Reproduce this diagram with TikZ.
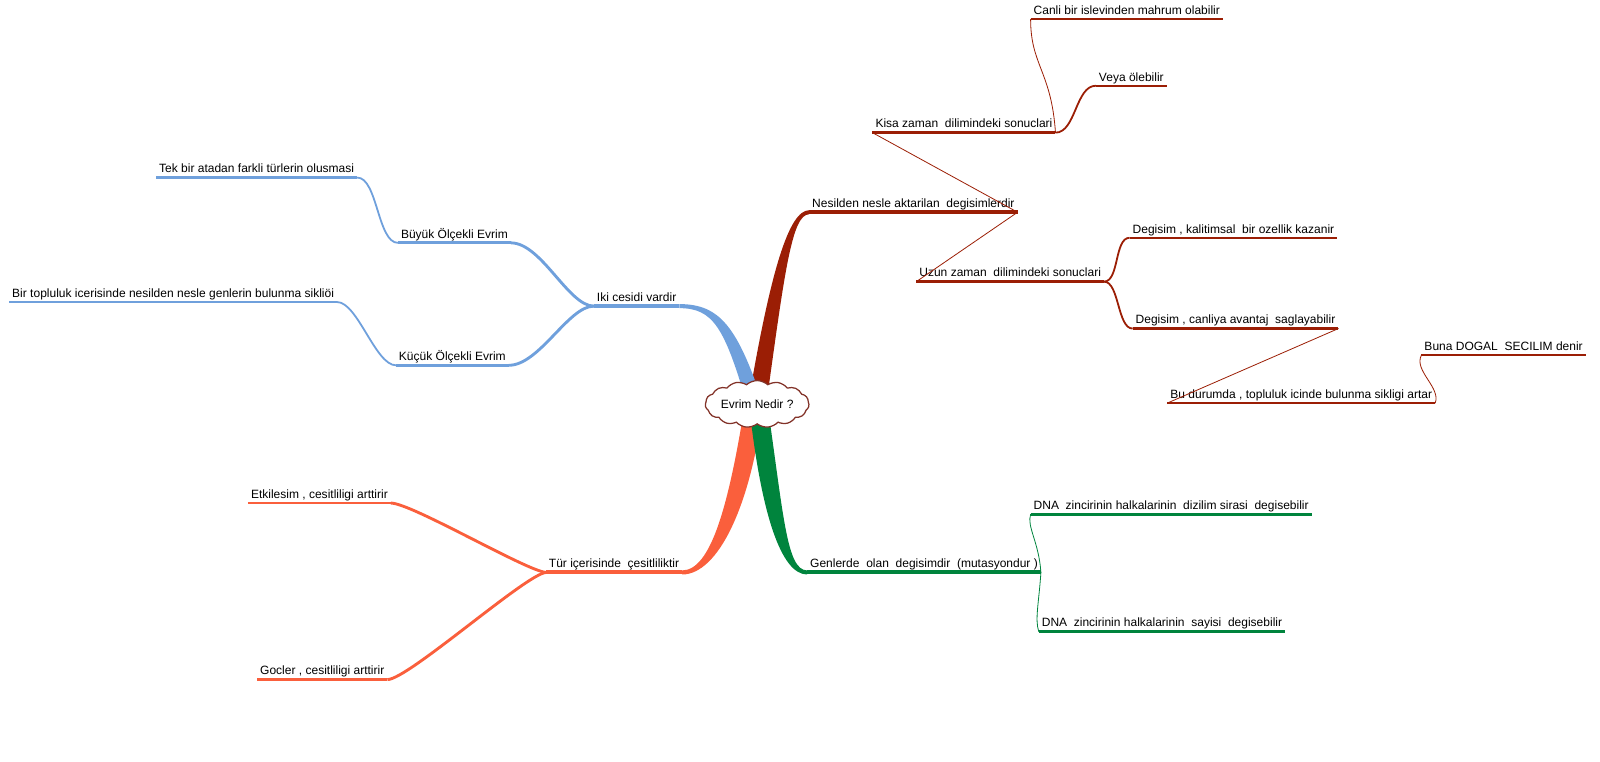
\documentclass[tikz,border=0pt]{standalone}
\usepackage{fontspec}
\setmainfont{Liberation Sans}
\usetikzlibrary{shapes.symbols,calc,backgrounds}

\definecolor{evred}{RGB}{155,30,5}
\definecolor{evblue}{RGB}{111,160,220}
\definecolor{evorange}{RGB}{250,95,60}
\definecolor{evgreen}{RGB}{0,132,61}
\definecolor{evcloud}{RGB}{130,50,40}

\begin{document}
\begin{tikzpicture}[x=0.02cm, y=-0.02cm,
  every node/.style={font=\fontsize{6.7}{7.7}\selectfont},
  topic/.style={anchor=south west, inner xsep=1.5pt, inner ysep=1.2pt, text height=4.8pt, text depth=1.2pt},
  lineA/.style={line width=2.2pt},
  lineB/.style={line width=1.6pt},
  lineC/.style={line width=1.2pt},
  lineD/.style={line width=1pt},
  hair/.style={line width=0.45pt, line cap=round}]
\useasboundingbox (0,0) rectangle (1568,746);
% centre
\node[cloud, cloud puffs=15, cloud puff arc=85, aspect=2.6, draw=evcloud, fill=white, line width=0.7pt,
  minimum width=54pt, minimum height=23pt, inner sep=0pt] (cloud) at (742,396) {Evrim Nedir ?};
% red branch
\node[topic] (nes) at (793,208) {Nesilden nesle aktarilan~ degisimlerdir};
\node[topic] (kisa) at (855,130) {Kisa zaman~ dilimindeki sonuclari};
\node[topic] (canli) at (1010,19) {Canli bir islevinden mahrum olabilir};
\node[topic] (veya) at (1074,84) {Veya ölebilir};
\node[topic] (uzun) at (898,276) {Uzun zaman~ dilimindeki sonuclari};
\node[topic] (deg1) at (1107,233) {Degisim , kalitimsal~ bir ozellik kazanir};
\node[topic] (deg2) at (1110,322) {Degisim , canliya avantaj~ saglayabilir};
\node[topic] (budur) at (1144,395) {Bu durumda , topluluk icinde bulunma sikligi artar};
\node[topic] (buna) at (1393,348) {Buna DOGAL~ SECILIM denir};
% blue branch
\node[topic] (iki) at (582,300) {Iki cesidi vardir};
\node[topic] (buyuk) at (390,238) {Büyük Ölçekli Evrim};
\node[topic] (tek) at (153,174) {Tek bir atadan farkli türlerin olusmasi};
\node[topic] (kucuk) at (388,358) {Küçük Ölçekli Evrim};
\node[topic] (bir) at (9,296) {Bir topluluk icerisinde nesilden nesle genlerin bulunma sikliöi};
% orange branch
\node[topic] (tur) at (535,561) {Tür içerisinde~ çesitliliktir};
\node[topic] (etk) at (243,493) {Etkilesim , cesitliligi arttirir};
\node[topic] (goc) at (252,666) {Gocler , cesitliligi arttirir};
% green branch
\node[topic] (gen) at (791,561) {Genlerde~ olan~ degisimdir~ (mutasyondur )};
\node[topic] (dna1) at (1010,504) {DNA~ zincirinin halkalarinin~ dizilim sirasi~ degisebilir};
\node[topic] (dna2) at (1018,619) {DNA~ zincirinin halkalarinin~ sayisi~ degisebilir};

% trunks
\begin{scope}[on background layer]
\fill[evred] ($(cloud.center)+(-9,0)$) .. controls +(22,-130) and +(-20,0) .. ($(nes.south west)+(0,-2)$)
  -- ($(nes.south west)+(0,2)$) .. controls +(-17,0) and +(18,-130) .. ($(cloud.center)+(9,0)$) -- cycle;
\fill[evblue] ($(iki.south east)+(0,-2)$) .. controls +(40,0) and +(-25,-75) .. ($(cloud.center)+(6,0)$)
  -- ($(cloud.center)+(-10,0)$) .. controls +(-22,-75) and +(33,0) .. ($(iki.south east)+(0,2)$) -- cycle;
\fill[evorange] ($(tur.south east)+(0,2)$) .. controls +(35,0) and +(-12,100) .. ($(cloud.center)+(6,0)$)
  -- ($(cloud.center)+(-12,0)$) .. controls +(-16,100) and +(28,0) .. ($(tur.south east)+(0,-2)$) -- cycle;
\fill[evgreen] ($(cloud.center)+(-8,0)$) .. controls +(12,110) and +(-25,0) .. ($(gen.south west)+(0,2)$)
  -- ($(gen.south west)+(0,-2)$) .. controls +(-20,0) and +(16,110) .. ($(cloud.center)+(10,0)$) -- cycle;
\end{scope}

% underlines
\draw[evred, lineA] (nes.south west) -- (nes.south east);
\draw[evred, lineB] (kisa.south west) -- (kisa.south east);
\draw[evred, lineB] (uzun.south west) -- (uzun.south east);
\draw[evred, lineC] (canli.south west) -- (canli.south east);
\draw[evred, lineC] (veya.south west) -- (veya.south east);
\draw[evred, lineC] (deg1.south west) -- (deg1.south east);
\draw[evred, lineC] (deg2.south west) -- (deg2.south east);
\draw[evred, lineD] (budur.south west) -- (budur.south east);
\draw[evred, lineD] (buna.south west) -- (buna.south east);
\draw[evblue, lineA] (iki.south west) -- (iki.south east);
\draw[evblue, lineB] (buyuk.south west) -- (buyuk.south east);
\draw[evblue, lineB] (kucuk.south west) -- (kucuk.south east);
\draw[evblue, lineC] (tek.south west) -- (tek.south east);
\draw[evblue, lineC] (bir.south west) -- (bir.south east);
\draw[evorange, lineA] (tur.south west) -- (tur.south east);
\draw[evorange, lineB] (etk.south west) -- (etk.south east);
\draw[evorange, lineB] (goc.south west) -- (goc.south east);
\draw[evgreen, lineA] (gen.south west) -- (gen.south east);
\draw[evgreen, lineB] (dna1.south west) -- (dna1.south east);
\draw[evgreen, lineB] (dna2.south west) -- (dna2.south east);

% connectors
\draw[evred, hair] (nes.south east) -- (kisa.south west);
\draw[evred, hair] (nes.south east) -- (uzun.south west);
\draw[evred, hair] (kisa.south east) .. controls +(-4,-60) and +(0,45) .. (canli.south west);
\draw[evred, lineD] (kisa.south east) .. controls +(20,0) and +(-20,0) .. (veya.south west);
\draw[evred, lineD] (uzun.south east) .. controls +(15,0) and +(-15,0) .. (deg1.south west);
\draw[evred, lineD] (uzun.south east) .. controls +(15,0) and +(-15,0) .. (deg2.south west);
\draw[evred, hair] (deg2.south east) -- (budur.south west);
\draw[evred, hair] (budur.south east) .. controls +(6,-15) and +(-8,15) .. (buna.south west);
\draw[evblue, lineB] (iki.south west) .. controls +(-25,0) and +(30,0) .. (buyuk.south east);
\draw[evblue, lineB] (iki.south west) .. controls +(-25,0) and +(30,0) .. (kucuk.south east);
\draw[evblue, lineD] (buyuk.south west) .. controls +(-20,0) and +(20,0) .. (tek.south east);
\draw[evblue, lineD] (kucuk.south west) .. controls +(-20,0) and +(20,0) .. (bir.south east);
\draw[evorange, lineB] (tur.south west) .. controls +(-20,-2) and +(20,0) .. (etk.south east);
\draw[evorange, lineB] (tur.south west) .. controls +(-20,2) and +(20,0) .. (goc.south east);
\draw[evgreen, hair] (gen.south east) .. controls +(-2,-30) and +(-4,12) .. (dna1.south west);
\draw[evgreen, hair] (gen.south east) .. controls +(-2,30) and +(-4,-12) .. (dna2.south west);
\end{tikzpicture}
\end{document}
